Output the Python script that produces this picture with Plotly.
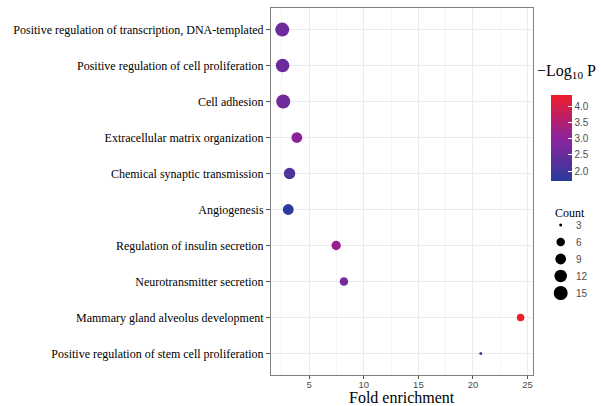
import plotly.graph_objects as go
import numpy as np

terms = [
    "Positive regulation of transcription, DNA-templated",
    "Positive regulation of cell proliferation",
    "Cell adhesion",
    "Extracellular matrix organization",
    "Chemical synaptic transmission",
    "Angiogenesis",
    "Regulation of insulin secretion",
    "Neurotransmitter secretion",
    "Mammary gland alveolus development",
    "Positive regulation of stem cell proliferation",
]
fold_enrichment = [2.53, 2.56, 2.62, 3.87, 3.20, 3.08, 7.47, 8.18, 24.36, 20.72]
neg_log10_p = [2.60, 2.55, 2.60, 3.00, 2.20, 1.70, 3.20, 2.70, 4.34, 2.30]
counts = [15, 14, 15, 9, 10, 9, 7, 6, 5, 3]

count_breaks = [3, 6, 9, 12, 15]
color_ticks = [2.0, 2.5, 3.0, 3.5, 4.0]
x_ticks = [5, 10, 15, 20, 25]

COUNT_MIN, COUNT_MAX = 3, 15


def size_scale(c):
    c = np.asarray(c, dtype=float)
    return 3 + 11 * np.sqrt((c - COUNT_MIN) / (COUNT_MAX - COUNT_MIN))


colorscale = [[0.0, "#2B3A9C"], [0.5, "#8E239C"], [1.0, "#EF1C2C"]]

SERIF = "Liberation Serif, Times New Roman, serif"
SANS = "Liberation Sans, Arial, sans-serif"

W, H = 601, 406
ML, MR, MT, MB = 271, 0, 8, 31
pw = W - ML - MR
ph = H - MT - MB
panel_right = 533


def px_x(p):
    return (p - ML) / pw


def px_y(p):
    return (H - MB - p) / ph


fig = go.Figure()

fig.add_trace(go.Scatter(
    x=fold_enrichment,
    y=list(range(len(terms))),
    mode="markers",
    marker=dict(
        size=size_scale(counts),
        sizemode="diameter",
        color=neg_log10_p,
        colorscale=colorscale,
        showscale=True,
        opacity=1,
        line=dict(width=0),
        colorbar=dict(
            x=px_x(551), xanchor="left", xpad=0,
            y=px_y(138), yanchor="middle", ypad=0,
            thickness=21, lenmode="pixels", len=86,
            outlinewidth=0,
            tickvals=color_ticks, tickformat=".1f",
            ticks="inside", ticklen=4, tickcolor="white",
            tickfont=dict(family=SANS, size=10, color="#4D4D4D"),
        ),
    ),
    showlegend=False,
    xaxis="x", yaxis="y",
))

# Size legend drawn on its own small axes
fig.add_trace(go.Scatter(
    x=[15.7] * len(count_breaks),
    y=list(range(len(count_breaks))),
    mode="markers",
    marker=dict(size=size_scale(count_breaks), color="black", opacity=1, line=dict(width=0)),
    showlegend=False,
    hoverinfo="skip",
    xaxis="x2", yaxis="y2",
))

annotations = []
for i, b in enumerate(count_breaks):
    annotations.append(dict(
        x=29, y=i, xref="x2", yref="y2", text=str(b), showarrow=False,
        xanchor="left", yanchor="middle",
        font=dict(family=SANS, size=10, color="#4D4D4D"),
    ))
annotations.append(dict(
    x=24.5, y=-0.73, xref="x2", yref="y2", text="Count", showarrow=False,
    xanchor="center", yanchor="middle",
    font=dict(family=SERIF, size=12, color="black"),
))
annotations.append(dict(
    x=px_x(535), y=px_y(71), xref="paper", yref="paper",
    text="\u2212Log<sub>10</sub> P", showarrow=False,
    xanchor="left", yanchor="middle",
    font=dict(family=SERIF, size=16, color="black"),
))
annotations.append(dict(
    x=0.5 * px_x(panel_right), y=px_y(397), xref="paper", yref="paper",
    text="Fold enrichment", showarrow=False, borderpad=0,
    xanchor="center", yanchor="middle",
    font=dict(family=SERIF, size=16, color="black"),
))

fig.update_layout(
    width=W, height=H,
    margin=dict(l=ML, r=MR, t=MT, b=MB, pad=0, autoexpand=False),
    paper_bgcolor="white", plot_bgcolor="white",
    annotations=annotations,
    xaxis=dict(
        domain=[0, px_x(panel_right)],
        range=[1.5, 25.5],
        tickvals=x_ticks,
        ticks="outside", ticklen=3, tickcolor="#555555",
        ticklabelstandoff=-2,
        tickfont=dict(family=SANS, size=9.5, color="#4D4D4D"),
        showgrid=True, gridcolor="#E6ECEF", gridwidth=1,
        minor=dict(dtick=2.5, tick0=0, showgrid=True, gridcolor="#F2F5F6", ticks=""),
        showline=True, linecolor="#808080", linewidth=1, mirror=True,
        zeroline=False,
    ),
    yaxis=dict(
        range=[len(terms) - 0.4, -0.6],
        tickvals=list(range(len(terms))),
        ticktext=terms,
        ticks="outside", ticklen=4, tickcolor="#555555",
        tickfont=dict(family=SERIF, size=12, color="black"),
        showgrid=True, gridcolor="#E6ECEF", gridwidth=1,
        showline=True, linecolor="#808080", linewidth=1, mirror=True,
        zeroline=False,
    ),
    xaxis2=dict(
        domain=[px_x(545), 1.0], range=[0, W - 545], anchor="y2",
        visible=False, fixedrange=True,
    ),
    yaxis2=dict(
        domain=[px_y(300), px_y(205)], range=[4.41, -1.176], anchor="x2",
        visible=False, fixedrange=True,
    ),
)

fig.write_html(
    "out.html",
    config={"displayModeBar": False},
    post_script="document.body.style.margin='0';document.body.style.padding='0';",
)
